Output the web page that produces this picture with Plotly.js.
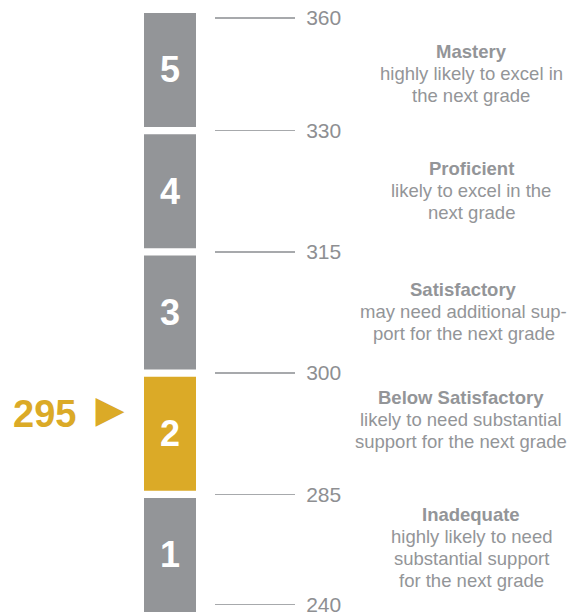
<!DOCTYPE html>
<html><head><meta charset="utf-8">
<script src="https://cdn.plot.ly/plotly-3.0.1.min.js"></script>
<style>html,body{margin:0;padding:0;background:#fff;overflow:hidden}</style>
</head><body><div id="chart" style="width:571px;height:615px"></div>
<script>
// ---- data ----
const levels = [1, 2, 3, 4, 5];
const levelNames = ['Inadequate', 'Below Satisfactory', 'Satisfactory', 'Proficient', 'Mastery'];
const levelDescriptions = [
  ['highly likely to need', 'substantial support', 'for the next grade'],
  ['likely to need substantial', 'support for the next grade'],
  ['may need additional sup-', 'port for the next grade'],
  ['likely to excel in the', 'next grade'],
  ['highly likely to excel in', 'the next grade']
];
const cutScores = [240, 285, 300, 315, 330, 360];
const studentScore = 295;

// ---- styling / layout ----
const GRAY = '#939598';
const GOLD = '#dbaa27';
const FONT = 'Liberation Sans, Arial, sans-serif';
const BAR_X = 170, BAR_W = 52, GAP = 0.03;
const DESC_X = 471, DESC_RIGHT = 567, LINE_H = 22, DESC_SIZE = 18.5;
const descShift = [7.5, 14, 1, 1, -3.5]; // px, visual block adjustments

// text width measurement for right-edge clamping of description blocks
const ctx = document.createElement('canvas').getContext('2d');
function textW(t, bold) {
  ctx.font = (bold ? 'bold ' : '') + DESC_SIZE + 'px "Liberation Sans"';
  return ctx.measureText(t).width;
}

// level containing the score
let sLevel = 0;
for (let i = 0; i < cutScores.length - 1; i++) {
  if (studentScore >= cutScores[i] && studentScore < cutScores[i + 1]) sLevel = i;
}
const sPos = sLevel + (studentScore - cutScores[sLevel]) / (cutScores[sLevel + 1] - cutScores[sLevel]);

const barTrace = {
  type: 'bar',
  x: levels.map(() => BAR_X),
  base: levels.map(l => l - 1 + GAP),
  y: levels.map(() => 1 - 2 * GAP),
  width: BAR_W,
  marker: { color: levels.map((l, i) => i === sLevel ? GOLD : GRAY), line: { width: 0 } },
  text: levels.map(String),
  textposition: 'inside',
  insidetextanchor: 'middle',
  constraintext: 'none',
  textfont: { family: FONT, size: 36, color: '#ffffff', weight: 'bold' },
  hoverinfo: 'none',
  showlegend: false
};

const markerTrace = {
  type: 'scatter', mode: 'text',
  x: [110], y: [sPos],
  text: ['\u25BA'],
  textposition: 'middle center',
  textfont: { family: FONT, size: 48, color: GOLD },
  hoverinfo: 'none', showlegend: false
};

// tick positions at level boundaries (ends slightly inset)
const tickPos = cutScores.map((c, i) => i === 0 ? 0.09 : (i === cutScores.length - 1 ? i - 0.07 : i));

const annotations = [];
annotations.push({
  x: 78, y: sPos, xref: 'x', yref: 'y', xanchor: 'right', yanchor: 'middle',
  text: String(studentScore), showarrow: false,
  font: { family: FONT, size: 38, color: GOLD, weight: 'bold' }
});
levels.forEach((l, i) => {
  const lines = [levelNames[i]].concat(levelDescriptions[i]);
  const n = lines.length;
  const w = Math.max.apply(null, lines.map((t, j) => textW(t, j === 0)));
  const cx = Math.min(DESC_X, DESC_RIGHT - w / 2);
  lines.forEach((t, j) => {
    annotations.push({
      x: cx, y: l - 0.5, xref: 'x', yref: 'y', xanchor: 'center', yanchor: 'middle',
      yshift: ((n - 1) / 2 - j) * LINE_H + descShift[i],
      text: j === 0 ? '<b>' + t + '</b>' : t, showarrow: false,
      font: { family: FONT, size: DESC_SIZE, color: GRAY }
    });
  });
});

const layout = {
  width: 571, height: 615,
  margin: { l: 0, r: 0, t: 0, b: 0, pad: 0 },
  paper_bgcolor: '#ffffff', plot_bgcolor: '#ffffff',
  xaxis: { range: [0, 571], visible: false, fixedrange: true },
  yaxis: {
    range: [0.005, 5.077], fixedrange: true,
    anchor: 'free', position: 214 / 571, side: 'right',
    showgrid: false, zeroline: false, showline: false,
    ticks: 'outside', ticklen: 80, tickwidth: 1.5, tickcolor: '#a7a9ac',
    tickmode: 'array', tickvals: tickPos, ticktext: cutScores.map(String),
    tickfont: { family: FONT, size: 21, color: '#8e8f92' },
    ticklabelstandoff: 7, ticklabeloverflow: 'allow'
  },
  annotations: annotations,
  showlegend: false
};

Plotly.newPlot('chart', [barTrace, markerTrace], layout, { displayModeBar: false, staticPlot: true });
</script>
</body></html>
